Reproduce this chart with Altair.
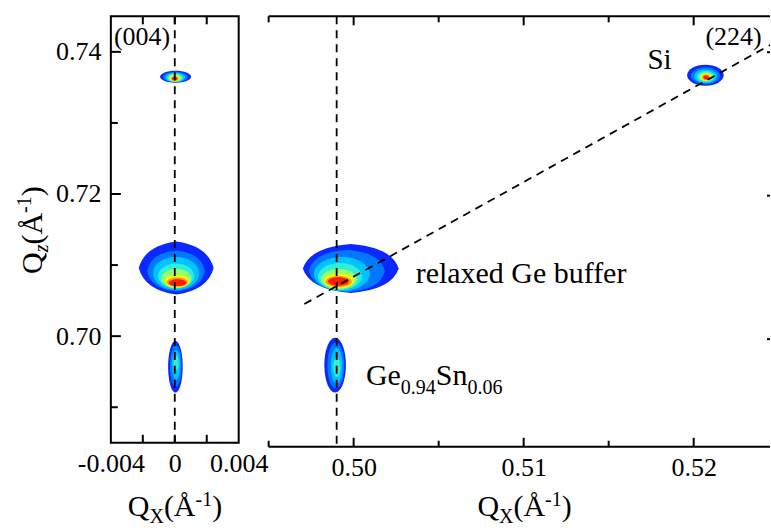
import altair as alt
import pandas as pd

FONT = "Liberation Serif"
BLACK = "#000000"

# ---------------- axis ranges (1/Å) and panel sizes ----------------
QZ_RANGE = [0.685, 0.745]
SYM_QX_RANGE = [-0.004, 0.004]      # (004) symmetric reflection
ASYM_QX_RANGE = [0.495, 0.52449]    # (224) asymmetric reflection

SYM_W, SYM_H = 128, 427
ASYM_W, ASYM_H = 502, 431

# jet-like intensity levels, low -> high
JET = ["#0a28ff", "#0078ff", "#00c4ff", "#2ef0d8",
       "#96ff6a", "#f4f80c", "#ff9a00", "#ff1a00"]

# ---------------- ticks ----------------
qz_major = [0.70, 0.72, 0.74]
qz_minor = [0.69, 0.71, 0.73]
sym_qx_label_at = [-0.004, 0.0, 0.004]
sym_qx_label_text = ["-0.004", "0", "0.004"]
sym_qx_ticks = [-0.002, 0.0, 0.002]
asym_qx_major = [0.50, 0.51, 0.52]
asym_qx_minor = [0.495, 0.505, 0.515]

# ---------------- (004) map: intensity contours ----------------
# centre (qx, qz) and half-widths (dqx, dqz) of each contour, in 1/Å
sym_peak = ["Si"] * 8 + ["Ge"] * 8 + ["GeSn"] * 4
sym_level = [0, 1, 2, 3, 4, 5, 6, 7,
             0, 1, 2, 3, 4, 5, 6, 7,
             0, 1, 2, 3]
sym_qx = [0.00005, 0.00004, 0.00003, 0.00002, 0.00001, 0.0, 0.0, 0.0,
          0.00009, 0.00008, 0.00008, 0.00008, 0.0001, 0.00014, 0.00016, 0.000175,
          0.00004, 0.00006, 0.00008, 0.00008]
sym_qz = [0.73650, 0.73646, 0.73641, 0.73637, 0.73633, 0.73629, 0.73626, 0.73625,
          0.70959, 0.70917, 0.70881, 0.70846, 0.70811, 0.70772, 0.70759, 0.70752,
          0.69570, 0.69581, 0.69596, 0.69624]
sym_dqx = [0.00097, 0.00078, 0.000625, 0.0005, 0.000394, 0.0003, 0.000225, 0.000156,
           0.002344, 0.001813, 0.001438, 0.001125, 0.000938, 0.000781, 0.000656, 0.00055,
           0.000456, 0.000363, 0.000263, 0.000156]
sym_dqz = [0.00084, 0.000745, 0.00066, 0.00059, 0.000506, 0.000422, 0.000351, 0.000281,
           0.003724, 0.002881, 0.002319, 0.001757, 0.001335, 0.000885, 0.000646, 0.000478,
           0.003626, 0.002951, 0.002108, 0.001124]

# ---------------- (224) map: intensity contours ----------------
asym_peak = ["Si"] * 8 + ["Ge"] * 8 + ["GeSn"] * 4
asym_level = [0, 1, 2, 3, 4, 5, 6, 7,
              0, 1, 2, 3, 4, 5, 6, 7,
              0, 1, 2, 3]
asym_qx = [0.52069, 0.52069, 0.52070, 0.52071, 0.52072, 0.52073, 0.52073, 0.52073,
           0.49983, 0.49960, 0.49931, 0.49919, 0.49913, 0.49913, 0.49912, 0.49910,
           0.49891, 0.49895, 0.49900, 0.49901]
asym_qz = [0.73679, 0.73672, 0.73665, 0.73661, 0.73656, 0.73654, 0.73651, 0.73651,
           0.70985, 0.70950, 0.70908, 0.70873, 0.70839, 0.70811, 0.70804, 0.70804,
           0.69638, 0.69634, 0.69627, 0.69613]
asym_dqx = [0.001075, 0.000852, 0.000676, 0.000529, 0.000411, 0.000311, 0.000235, 0.000164,
            0.00282, 0.002232, 0.001645, 0.001292, 0.001057, 0.000881, 0.000764, 0.000617,
            0.000634, 0.000499, 0.000341, 0.000206]
asym_dqz = [0.001462, 0.001183, 0.000975, 0.00078, 0.000626, 0.000487, 0.00039, 0.000292,
            0.003411, 0.002924, 0.002367, 0.001879, 0.001392, 0.001044, 0.000766, 0.000585,
            0.003828, 0.003202, 0.002506, 0.001392]

# outline roundness of the broad buffer-layer contours (None = ellipse, lower = more diamond)
SYM_ROUNDNESS = {("Ge", 0): 0.84, ("Ge", 1): 0.88}
ASYM_ROUNDNESS = {("Ge", 0): 0.86, ("Ge", 1): 0.9}

# ---------------- reference lines ----------------
sym_vline_qx = [0.0]
asym_vline_qx = [0.4990]
relax_qx = [0.4971, 0.5245]     # relaxation line through Ge buffer and Si
relax_qz = [0.7049, 0.7410]

# ---------------- annotation anchors ----------------
sym_refl_qx, sym_refl_qz = -0.00381, 0.74092
asym_refl_qx, asym_refl_qz = 0.52069, 0.74096
si_qx, si_qz = 0.51728, 0.73762
buffer_qx, buffer_qz = 0.50365, 0.70787
gesn_qx, gesn_qz = 0.50072, 0.69356

# approximate Times advance widths (em) used to chain text pieces
ADV = {"G": .722, "e": .444, "S": .556, "n": .5, "Q": .722, "X": .722,
       "(": .333, ")": .333, "Å": .722, "-": .333, "z": .389, ".": .25}


def text_width(text, size):
    return sum(ADV.get(c, .5) for c in text) * size


def outline_path(a, b, k=None):
    if k is None:
        return (f"M {-a:.2f} 0 A {a:.2f} {b:.2f} 0 1 1 {a:.2f} 0 "
                f"A {a:.2f} {b:.2f} 0 1 1 {-a:.2f} 0 Z")
    ca, cb = k * a, k * b
    return (f"M {a:.2f} 0 Q {ca:.2f} {cb:.2f} 0 {b:.2f} "
            f"Q {-ca:.2f} {cb:.2f} {-a:.2f} 0 "
            f"Q {-ca:.2f} {-cb:.2f} 0 {-b:.2f} "
            f"Q {ca:.2f} {-cb:.2f} {a:.2f} 0 Z")


def contours(peak, level, qx, qz, dqx, dqz, x_range, width, height, roundness):
    kx = width / (x_range[1] - x_range[0])
    ky = height / (QZ_RANGE[1] - QZ_RANGE[0])
    df = pd.DataFrame(dict(peak=peak, level=level, qx=qx, qz=qz, dqx=dqx, dqz=dqz))
    df["color"] = [JET[l] for l in df["level"]]
    df["outline"] = [
        outline_path(a * kx, b * ky, roundness.get((p, l)))
        for p, l, a, b in zip(df["peak"], df["level"], df["dqx"], df["dqz"])
    ]
    df["seq"] = list(range(len(df)))
    return df


def blob_layer(df, x_enc, y_enc):
    return alt.Chart(df).mark_point(filled=True, opacity=1, strokeWidth=0).encode(
        x=x_enc, y=y_enc,
        shape=alt.Shape("outline:N", scale=None),
        fill=alt.Fill("color:N", scale=None),
        size=alt.value(4),
        order=alt.Order("seq:Q"),
    )


def y_ticks(values, y_enc, x0, x1):
    return alt.Chart(pd.DataFrame({"qz": values})).mark_rule(
        color=BLACK, strokeWidth=2).encode(y=y_enc, x=alt.value(x0), x2=alt.value(x1))


def x_ticks(values, x_enc, y0, y1):
    return alt.Chart(pd.DataFrame({"qx": values})).mark_rule(
        color=BLACK, strokeWidth=2).encode(x=x_enc, y=alt.value(y0), y2=alt.value(y1))


def dashed_vline(values, x_enc, height):
    return alt.Chart(pd.DataFrame({"qx": values})).mark_rule(
        color=BLACK, strokeWidth=1.8, strokeDash=[8, 6]).encode(
        x=x_enc, y=alt.value(0), y2=alt.value(height))


def data_text(qx, qz, pieces, x_enc, y_enc):
    """Text anchored at a data point; pieces = (text, size, baseline shift, style)."""
    layers, pos = [], 0.0
    for text, size, shift, style in pieces:
        layers.append(
            alt.Chart(pd.DataFrame({"qx": [qx], "qz": [qz], "t": [text]})).mark_text(
                align="left", baseline="alphabetic", font=FONT, fontSize=size,
                fontStyle=style, dx=pos, dy=shift, color=BLACK,
            ).encode(x=x_enc, y=y_enc, text="t:N"))
        pos += text_width(text, size)
    return layers


def pixel_text(x0, y0, pieces, angle=0):
    """Axis title built from pieces so that sub/superscripts can be drawn."""
    layers, pos = [], 0.0
    for text, size, shift, style in pieces:
        if angle == 0:
            x, y = x0 + pos, y0 + shift
        else:
            x, y = x0 + shift, y0 - pos
        layers.append(
            alt.Chart(pd.DataFrame({"t": [text]})).mark_text(
                align="left", baseline="alphabetic", font=FONT, fontSize=size,
                fontStyle=style, angle=angle, color=BLACK,
            ).encode(x=alt.value(x), y=alt.value(y), text="t:N"))
        pos += text_width(text, size)
    return layers


label_style = dict(title=None, ticks=False, domain=False, grid=False,
                   labelFont=FONT, labelFontSize=26, labelColor=BLACK,
                   labelFlush=False, labelOverlap=False)

sym_label_expr = "''"
for v, s in reversed(list(zip(sym_qx_label_at, sym_qx_label_text))):
    sym_label_expr = f"abs(datum.value - ({v})) < 1e-9 ? '{s}' : {sym_label_expr}"

sym_x = alt.X("qx:Q", scale=alt.Scale(domain=SYM_QX_RANGE, nice=False, zero=False),
              axis=alt.Axis(values=sym_qx_label_at, labelExpr=sym_label_expr,
                            labelPadding=8, **label_style))
sym_y = alt.Y("qz:Q", scale=alt.Scale(domain=QZ_RANGE, nice=False, zero=False),
              axis=alt.Axis(values=qz_major, format=".2f", labelPadding=10, **label_style))
asym_x = alt.X("qx:Q", scale=alt.Scale(domain=ASYM_QX_RANGE, nice=False, zero=False),
               axis=alt.Axis(values=asym_qx_major, format=".2f", labelPadding=8, **label_style))
asym_y = alt.Y("qz:Q", scale=alt.Scale(domain=QZ_RANGE, nice=False, zero=False), axis=None)

qx_title = [("Q", 30, 0, "normal"), ("X", 20, 7, "normal"), ("(Å", 30, 0, "normal"),
            ("-1", 20, -10, "normal"), (")", 30, 0, "normal")]
qz_title = [("Q", 30, 0, "normal"), ("z", 20, 6, "italic"), ("(Å", 30, 0, "normal"),
            ("-1", 20, -11, "normal"), (")", 30, 0, "normal")]

# keeps the plot origin of the left panel 110 px in and 15 px down
origin = alt.Chart(pd.DataFrame({"t": [0]})).mark_rule(opacity=0).encode(
    x=alt.value(-110), x2=alt.value(-110), y=alt.value(-15), y2=alt.value(-15))

# ---------------- left panel: (004) ----------------
sym_df = contours(sym_peak, sym_level, sym_qx, sym_qz, sym_dqx, sym_dqz,
                  SYM_QX_RANGE, SYM_W, SYM_H, SYM_ROUNDNESS)
sym_layers = [
    origin,
    blob_layer(sym_df, sym_x, sym_y),
    dashed_vline(sym_vline_qx, sym_x, SYM_H),
    y_ticks(qz_major, sym_y, 0, 10),
    y_ticks(qz_minor, sym_y, 0, 7),
    x_ticks(sym_qx_ticks, sym_x, SYM_H, SYM_H - 8),
    x_ticks(sym_qx_ticks, sym_x, 0, 8),
]
sym_layers += data_text(sym_refl_qx, sym_refl_qz, [("(004)", 26, 0, "normal")], sym_x, sym_y)
sym_layers += pixel_text(17, 500, qx_title)
sym_layers += pixel_text(-69, 258, qz_title, angle=270)

sym_panel = alt.layer(*sym_layers).properties(
    width=SYM_W, height=SYM_H,
    view=alt.ViewBackground(stroke=BLACK, strokeWidth=2),
)

# ---------------- right panel: (224) ----------------
asym_df = contours(asym_peak, asym_level, asym_qx, asym_qz, asym_dqx, asym_dqz,
                   ASYM_QX_RANGE, ASYM_W, ASYM_H, ASYM_ROUNDNESS)
relax_df = pd.DataFrame({"qx": relax_qx, "qz": relax_qz})

asym_layers = [
    blob_layer(asym_df, asym_x, asym_y),
    dashed_vline(asym_vline_qx, asym_x, ASYM_H),
    alt.Chart(relax_df).mark_line(color=BLACK, strokeWidth=1.8, strokeDash=[8, 6],
                                  clip=True).encode(x=asym_x, y=asym_y),
    # frame: top and bottom edges
    alt.Chart(pd.DataFrame({"t": [0]})).mark_rule(color=BLACK, strokeWidth=2).encode(
        x=alt.value(0), x2=alt.value(ASYM_W), y=alt.value(0)),
    alt.Chart(pd.DataFrame({"t": [0]})).mark_rule(color=BLACK, strokeWidth=2).encode(
        x=alt.value(0), x2=alt.value(ASYM_W), y=alt.value(ASYM_H)),
    x_ticks(asym_qx_major, asym_x, ASYM_H, ASYM_H - 9),
    x_ticks(asym_qx_minor, asym_x, ASYM_H, ASYM_H - 6),
    x_ticks(asym_qx_major, asym_x, 0, 9),
    x_ticks(asym_qx_minor, asym_x, 0, 6),
    y_ticks(qz_major, asym_y, ASYM_W - 3, ASYM_W),
]
asym_layers += data_text(asym_refl_qx, asym_refl_qz, [("(224)", 26, 0, "normal")], asym_x, asym_y)
asym_layers += data_text(si_qx, si_qz, [("Si", 29, 0, "normal")], asym_x, asym_y)
asym_layers += data_text(buffer_qx, buffer_qz, [("relaxed Ge buffer", 30, 0, "normal")],
                         asym_x, asym_y)
asym_layers += data_text(gesn_qx, gesn_qz,
                         [("Ge", 30, 0, "normal"), ("0.94", 20, 9, "normal"),
                          ("Sn", 30, 0, "normal"), ("0.06", 20, 9, "normal")],
                         asym_x, asym_y)
asym_layers += pixel_text(209, 500, qx_title)

asym_panel = alt.layer(*asym_layers).properties(
    width=ASYM_W, height=ASYM_H,
    view=alt.ViewBackground(strokeOpacity=0),
)

chart = alt.hconcat(sym_panel, asym_panel, spacing=30, bounds="flush").properties(
    padding=0, background="white"
).configure_axis(
    labelFont=FONT, labelFontSize=26, labelColor=BLACK
).configure_text(font=FONT)

chart.save("out.html", embed_options={"renderer": "svg", "actions": False})
